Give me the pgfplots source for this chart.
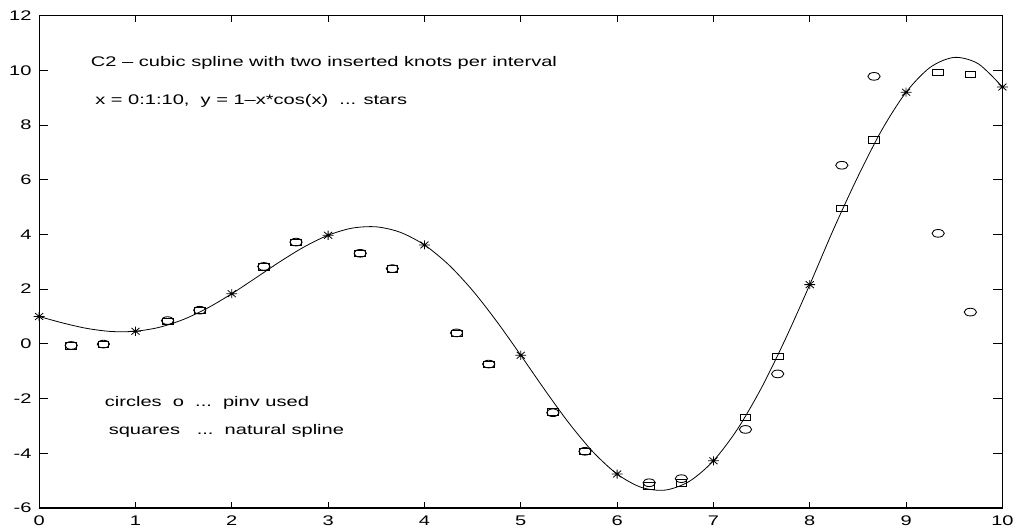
\documentclass[border=0pt]{standalone}
\usepackage{fontspec}
\setmainfont{Liberation Sans}[FakeStretch=1.44]
\usepackage{pgfplots}
\pgfplotsset{compat=1.18}

% matlab style '*' : a plus and a cross on top of each other
\pgfdeclareplotmark{mstar}{%
  \pgfpathmoveto{\pgfqpoint{-\pgfplotmarksize}{0pt}}%
  \pgfpathlineto{\pgfqpoint{\pgfplotmarksize}{0pt}}%
  \pgfpathmoveto{\pgfqpoint{0pt}{-\pgfplotmarksize}}%
  \pgfpathlineto{\pgfqpoint{0pt}{\pgfplotmarksize}}%
  \pgfpathmoveto{\pgfqpoint{-0.75\pgfplotmarksize}{-0.75\pgfplotmarksize}}%
  \pgfpathlineto{\pgfqpoint{0.75\pgfplotmarksize}{0.75\pgfplotmarksize}}%
  \pgfpathmoveto{\pgfqpoint{-0.75\pgfplotmarksize}{0.75\pgfplotmarksize}}%
  \pgfpathlineto{\pgfqpoint{0.75\pgfplotmarksize}{-0.75\pgfplotmarksize}}%
  \pgfusepathqstroke}

\begin{document}
\begin{tikzpicture}
\begin{axis}[
    name=ax,
    scale only axis,
    width=726pt,
    height=371pt,
    xmin=0, xmax=10,
    ymin=-6, ymax=12,
    xtick={0,1,2,3,4,5,6,7,8,9,10},
    ytick={-6,-4,-2,0,2,4,6,8,10,12},
    tick align=inside,
    major tick length=7pt,
    xtick style={/pgfplots/major tick length=4.5pt},
    axis line style={line width=0.9pt},
    every tick/.append style={black, line width=0.6pt},
    font=\fontsize{10.5}{12}\selectfont,
    /pgf/number format/assume math mode=true,
    xticklabel style={yshift=-2.5pt},
    yticklabel style={xshift=-2.2pt},
]
% spline through the stars
\addplot[black, line width=0.6pt, smooth, mark=none] coordinates {
    (0,1.000) (0.25,0.758) (0.5,0.561) (0.75,0.451) (1,0.460)
    (1.25,0.606) (1.5,0.894) (1.75,1.312) (2,1.832) (2.25,2.413)
    (2.5,3.003) (2.75,3.542) (3,3.970) (3.25,4.231) (3.5,4.278)
    (3.75,4.077) (4,3.615) (4.25,2.896) (4.5,1.949) (4.75,0.821)
    (5,-0.418) (5.25,-1.688) (5.5,-2.898) (5.75,-3.952) (6,-4.761)
    (6.25,-5.247) (6.5,-5.348) (6.75,-5.028) (7,-4.277) (7.25,-3.117)
    (7.5,-1.600) (7.75,0.196) (8,2.164) (8.25,4.215) (8.5,6.117)
    (8.75,7.832) (9,9.200) (9.25,10.109) (9.5,10.473) (9.75,10.239)
    (10,9.391) };
% stars: data points
\addplot[only marks, mark=mstar, mark size=3.4pt,
    mark options={xscale=1.2, line width=0.6pt}] coordinates {
    (0,1.000) (1,0.460) (2,1.832) (3,3.970) (4,3.615) (5,-0.418)
    (6,-4.761) (7,-4.277) (8,2.164) (9,9.200) (10,9.391) };
% circles: pinv
\addplot[only marks, mark=o, mark size=2.9pt,
    mark options={xscale=1.6, line width=0.65pt}] coordinates {
    (0.333,-0.06) (0.667,-0.01) (1.333,0.85) (1.667,1.23) (2.333,2.83)
    (2.667,3.72) (3.333,3.31) (3.667,2.75) (4.333,0.40) (4.667,-0.74)
    (5.333,-2.52) (5.667,-3.93) (6.333,-5.08) (6.667,-4.93) (7.333,-3.13)
    (7.667,-1.10) (8.333,6.53) (8.667,9.78) (9.333,4.04) (9.667,1.16) };
% squares: natural spline
\addplot[only marks, mark=square, mark size=2.4pt,
    mark options={xscale=1.7, line width=0.65pt}] coordinates {
    (0.333,-0.08) (0.667,-0.02) (1.333,0.83) (1.667,1.21) (2.333,2.81)
    (2.667,3.70) (3.333,3.30) (3.667,2.74) (4.333,0.39) (4.667,-0.75)
    (5.333,-2.49) (5.667,-3.93) (6.333,-5.20) (6.667,-5.08) (7.333,-2.70)
    (7.667,-0.46) (8.333,4.94) (8.667,7.45) (9.333,9.93) (9.667,9.86) };

\node[anchor=west, inner sep=0pt] at (axis cs:0.535,10.29)
    {C2 – cubic spline with two inserted knots per interval};
\node[anchor=west, inner sep=0pt] at (axis cs:0.58,8.9)
    {x = 0:1:10,\ \ y = 1–x*cos(x)\ \ ... stars};
\node[anchor=west, inner sep=0pt] at (axis cs:0.68,-2.15)
    {circles\ \ o\ \ ...\ \ pinv used};
\node[anchor=west, inner sep=0pt] at (axis cs:0.72,-3.18)
    {squares\ \ \ ...\ \ natural spline};
\end{axis}
\path ([shift={(-29.5pt,-14.6pt)}]ax.south west)
    rectangle ([shift={(8pt,11.8pt)}]ax.north east);
\end{tikzpicture}
\end{document}
